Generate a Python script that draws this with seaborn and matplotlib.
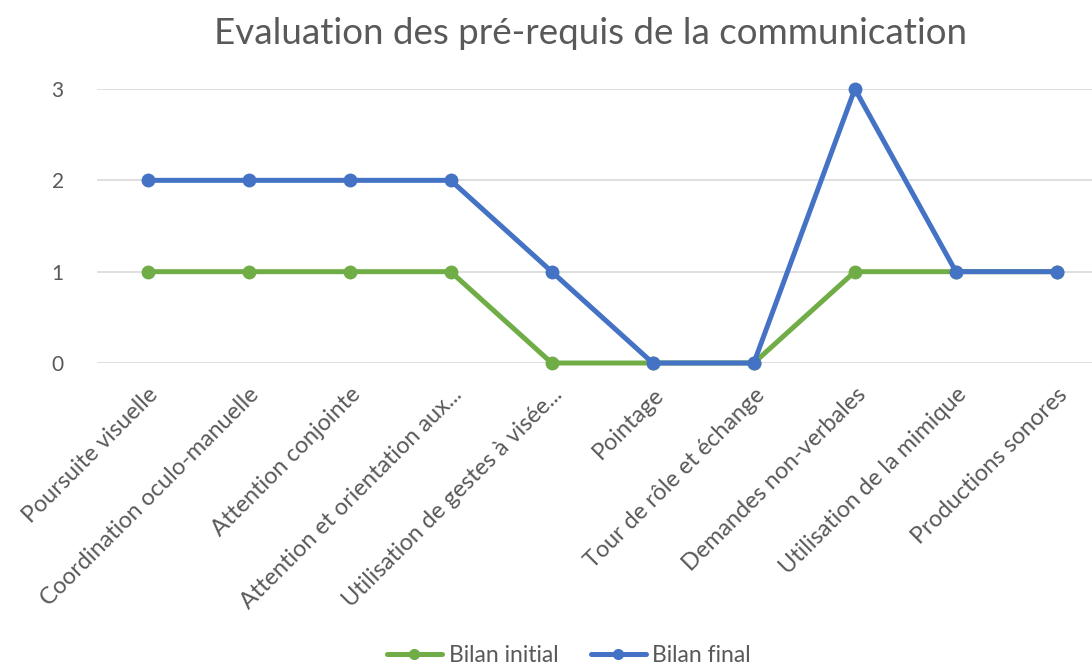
import matplotlib
matplotlib.use("Agg")
import matplotlib.pyplot as plt
import matplotlib.transforms as mtransforms
import seaborn as sns
import pandas as pd
from matplotlib.lines import Line2D

categories = ["Poursuite visuelle", "Coordination oculo-manuelle", "Attention conjointe",
              "Attention et orientation aux...", "Utilisation de gestes à visée...", "Pointage",
              "Tour de rôle et échange", "Demandes non-verbales", "Utilisation de la mimique",
              "Productions sonores"]
bilan_initial = [1, 1, 1, 1, 0, 0, 0, 1, 1, 1]
bilan_final = [2, 2, 2, 2, 1, 0, 0, 3, 1, 1]
series_names = ["Bilan initial", "Bilan final"]
colors = ["#70AD47", "#4472C4"]

df = pd.DataFrame({
    "cat": categories * 2,
    "pos": list(range(len(categories))) * 2,
    "val": bilan_initial + bilan_final,
    "serie": [series_names[0]] * len(categories) + [series_names[1]] * len(categories),
})

sns.set_theme(style="white")
plt.rcParams['font.family'] = ['Lato', 'DejaVu Sans']

W, H = 1092, 667
fig = plt.figure(figsize=(W / 100, H / 100), dpi=100)
left, right, top, bottom = 97, 1092, 89, 363
ax = fig.add_axes([left / W, 1 - bottom / H, (right - left) / W, (bottom - top) / H])

sns.lineplot(data=df, x="pos", y="val", hue="serie", palette=colors, marker="o",
             markersize=10, linewidth=3.6, markeredgewidth=0, ax=ax, sort=False,
             clip_on=False, legend=False)

ax.set_xlim(-0.5, 9 + (1092 - 1057) / 101)
ax.set_ylim(0, 3)
ax.set_yticks([0, 1, 2, 3])
ax.set_xticks(range(len(categories)))
ax.set_xticklabels(categories, rotation=45, ha="right", rotation_mode="anchor",
                   fontsize=16.8, color="#595959")
offset = mtransforms.ScaledTranslation(-16 / 100, 0, fig.dpi_scale_trans)
for lbl in ax.get_xticklabels():
    lbl.set_transform(lbl.get_transform() + offset)
ax.tick_params(axis="y", labelsize=15, labelcolor="#595959", length=0, pad=24)
ax.tick_params(axis="x", length=0, pad=15)
ax.yaxis.grid(True, color="#D9D9D9", linewidth=1.2)
ax.set_axisbelow(True)
for s in ax.spines.values():
    s.set_visible(False)
ax.set_xlabel("")
ax.set_ylabel("")

fig.text(590 / W, 1 - 33 / H, "Evaluation des pré-requis de la communication",
         ha="center", va="center", fontsize=26.5, color="#595959")

handles = [Line2D([0], [0], color=c, linewidth=3.6, marker="o", markersize=7) for c in colors]
fig.legend(handles, series_names, loc="center", bbox_to_anchor=(569 / W, 1 - 656 / H),
           ncol=2, frameon=False, fontsize=16.5, labelcolor="#595959",
           handlelength=2.4, columnspacing=1.4, handletextpad=0.3)

fig.savefig("out.png", dpi=100, facecolor="white")
